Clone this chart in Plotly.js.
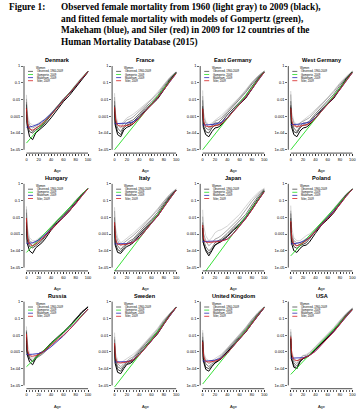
<!DOCTYPE html>
<html><head><meta charset="utf-8">
<script src="https://cdn.plot.ly/plotly-3.0.1.min.js"></script>
<style>html,body{margin:0;padding:0;background:#fff}#chart{width:359px;height:420px}</style>
</head><body><div id="chart"></div>
<script>
// ---------- data ----------
const countries = ['Denmark','France','East Germany','West Germany','Hungary','Italy','Japan','Poland','Russia','Sweden','United Kingdom','USA'];
const ages = [0,1,5,10,15,20,25,30,40,50,60,70,80,90,100];
const years = [1960,1972,1985,1997,2009];
const fitAges = [0,1,2,5,10,20,30,40,50,60,70,80,90,100];
const gompAges = [0,100];
const legendLabels = ['Observed, 1960-2009','Gompertz, 2009','Makeham, 2009','Siler, 2009'];
const xTicks = [0,20,40,60,80,100];
const yTickVals = [1e-5,1e-4,1e-3,1e-2,1e-1,1];
const yTickText = ['1e-05','1e-04','0.001','0.01','0.1','1'];

const obsDenmark = [
 [0.019,0.0015,0.0004,0.0003,0.0003,0.0004,0.0005,0.0007,0.0016,0.004,0.0095,0.026,0.08,0.22,0.5],
 [0.011,0.0008,0.0003,0.0002,0.00025,0.0003,0.0004,0.0006,0.0015,0.0042,0.0095,0.024,0.072,0.2,0.48],
 [0.007,0.0005,0.0002,0.00012,0.0002,0.00025,0.0003,0.0005,0.0014,0.0045,0.011,0.024,0.065,0.19,0.45],
 [0.005,0.0004,0.00012,0.0001,0.00015,0.0002,0.00025,0.0004,0.0012,0.0036,0.01,0.023,0.06,0.19,0.45],
 [0.003,0.0003,0.00006,0.00004,0.0001,0.00015,0.0002,0.0003,0.0008,0.0025,0.0075,0.018,0.055,0.17,0.45]];
const obsFrance = [
 [0.024,0.0018,0.0004,0.0003,0.0005,0.0008,0.001,0.0013,0.0026,0.0055,0.011,0.028,0.085,0.22,0.45],
 [0.014,0.001,0.0003,0.0002,0.0004,0.0006,0.0007,0.0009,0.002,0.0045,0.009,0.022,0.072,0.2,0.45],
 [0.008,0.0006,0.0002,0.00012,0.00025,0.0004,0.0005,0.0006,0.0014,0.0035,0.007,0.017,0.058,0.18,0.43],
 [0.0045,0.0004,0.00012,0.00008,0.0002,0.0003,0.00035,0.00045,0.0011,0.0027,0.0055,0.013,0.045,0.16,0.42],
 [0.0033,0.0003,0.00008,0.00006,0.00015,0.00022,0.00026,0.00035,0.00085,0.0022,0.0048,0.011,0.037,0.14,0.4]];
const obsEastGermany = [
 [0.035,0.002,0.0005,0.0003,0.0004,0.0006,0.0008,0.0011,0.0025,0.0062,0.014,0.038,0.11,0.26,0.5],
 [0.016,0.001,0.0004,0.0002,0.0003,0.0005,0.0006,0.0008,0.002,0.0052,0.012,0.033,0.1,0.25,0.5],
 [0.009,0.0006,0.0002,0.00015,0.00025,0.0004,0.0004,0.0006,0.0016,0.0042,0.01,0.027,0.085,0.22,0.48],
 [0.004,0.0003,0.00012,0.0001,0.0002,0.0003,0.0003,0.0004,0.0012,0.003,0.0068,0.017,0.06,0.19,0.46],
 [0.0028,0.00022,0.00008,0.00006,0.00012,0.0002,0.00022,0.0003,0.0008,0.0023,0.0052,0.012,0.042,0.16,0.43]];
const obsWestGermany = [
 [0.032,0.002,0.0005,0.0003,0.0004,0.0006,0.0008,0.0011,0.0025,0.006,0.013,0.035,0.1,0.24,0.5],
 [0.02,0.0012,0.0004,0.0002,0.0004,0.0005,0.0006,0.0008,0.002,0.005,0.011,0.03,0.09,0.22,0.48],
 [0.008,0.0006,0.0002,0.00012,0.00025,0.0004,0.0004,0.0005,0.0014,0.0035,0.008,0.021,0.07,0.2,0.46],
 [0.0045,0.0004,0.00012,0.0001,0.0002,0.0003,0.0003,0.0004,0.0011,0.0028,0.0062,0.015,0.055,0.18,0.45],
 [0.0033,0.00025,0.00008,0.00006,0.00013,0.0002,0.00022,0.0003,0.0008,0.0023,0.0052,0.012,0.043,0.16,0.43]];
const obsHungary = [
 [0.045,0.003,0.0006,0.0004,0.0004,0.0006,0.0008,0.001,0.0022,0.0055,0.013,0.036,0.11,0.25,0.5],
 [0.03,0.0015,0.0004,0.0003,0.0003,0.0005,0.0006,0.0009,0.0022,0.0058,0.013,0.035,0.1,0.25,0.5],
 [0.019,0.0008,0.0003,0.0002,0.00025,0.0004,0.0005,0.0008,0.0024,0.0065,0.014,0.035,0.1,0.25,0.5],
 [0.009,0.0005,0.00018,0.00015,0.0002,0.0003,0.0004,0.0007,0.0022,0.0062,0.013,0.03,0.09,0.23,0.5],
 [0.005,0.0003,0.0001,0.00007,0.00015,0.0002,0.0003,0.0005,0.0017,0.0048,0.01,0.024,0.075,0.22,0.5]];
const obsItaly = [
 [0.04,0.003,0.0006,0.0003,0.0004,0.0006,0.0008,0.0011,0.0023,0.0055,0.012,0.034,0.1,0.25,0.5],
 [0.024,0.0013,0.0004,0.0002,0.0003,0.0004,0.0006,0.0008,0.0018,0.0045,0.01,0.028,0.09,0.23,0.48],
 [0.01,0.0006,0.0002,0.00012,0.0002,0.0003,0.0004,0.0005,0.0013,0.0033,0.0075,0.02,0.07,0.2,0.45],
 [0.005,0.0003,0.00012,0.00009,0.00015,0.00025,0.0003,0.0004,0.001,0.0025,0.0058,0.015,0.055,0.18,0.43],
 [0.0032,0.00022,0.00008,0.00007,0.00012,0.00018,0.00022,0.0003,0.0008,0.002,0.0047,0.012,0.043,0.15,0.42]];
const obsJapan = [
 [0.028,0.004,0.0008,0.0004,0.0006,0.0012,0.0016,0.0018,0.003,0.0065,0.015,0.045,0.13,0.3,0.55],
 [0.011,0.0012,0.0004,0.0002,0.0003,0.0005,0.0006,0.0008,0.0017,0.004,0.009,0.028,0.09,0.24,0.5],
 [0.005,0.0005,0.00018,0.0001,0.00015,0.0003,0.0004,0.0005,0.0011,0.0026,0.0055,0.015,0.055,0.18,0.45],
 [0.0035,0.0003,0.00012,0.00007,0.00012,0.00022,0.0003,0.0004,0.0008,0.002,0.0043,0.011,0.04,0.14,0.4],
 [0.0023,0.0003,0.0001,0.00005,0.0001,0.00022,0.00028,0.00035,0.0007,0.0017,0.0035,0.0085,0.03,0.11,0.36]];
const obsPoland = [
 [0.05,0.003,0.0006,0.0004,0.0004,0.0006,0.0008,0.001,0.002,0.005,0.012,0.035,0.1,0.25,0.5],
 [0.025,0.0013,0.0004,0.0003,0.0003,0.0004,0.0005,0.0007,0.0017,0.0045,0.011,0.03,0.09,0.23,0.5],
 [0.017,0.0008,0.0003,0.0002,0.00025,0.0003,0.0004,0.0006,0.0017,0.0048,0.011,0.03,0.09,0.23,0.5],
 [0.009,0.0005,0.00018,0.00014,0.0002,0.00025,0.0003,0.0005,0.0015,0.0043,0.0095,0.025,0.08,0.22,0.48],
 [0.0052,0.0003,0.0001,0.00008,0.00014,0.0002,0.00022,0.00032,0.0011,0.0035,0.0075,0.019,0.065,0.2,0.47]];
const obsRussia = [
 [0.033,0.004,0.0008,0.0004,0.0005,0.0008,0.001,0.0013,0.0025,0.0055,0.013,0.035,0.1,0.25,0.5],
 [0.02,0.0016,0.0005,0.0003,0.0004,0.0006,0.0008,0.0011,0.0027,0.006,0.013,0.036,0.1,0.25,0.5],
 [0.018,0.0012,0.0004,0.00025,0.0004,0.0005,0.0007,0.001,0.0028,0.0065,0.014,0.036,0.1,0.25,0.5],
 [0.015,0.001,0.0004,0.00025,0.0005,0.0008,0.001,0.0014,0.0035,0.008,0.016,0.036,0.1,0.24,0.48],
 [0.0075,0.0007,0.00025,0.00017,0.0004,0.0007,0.0009,0.0013,0.0031,0.0068,0.0135,0.03,0.085,0.22,0.47]];
const obsSweden = [
 [0.014,0.001,0.0003,0.0002,0.0003,0.0004,0.0005,0.0007,0.0015,0.0038,0.009,0.026,0.085,0.22,0.5],
 [0.008,0.0006,0.0002,0.00013,0.0002,0.0003,0.0004,0.0005,0.0013,0.0034,0.008,0.022,0.075,0.2,0.48],
 [0.0055,0.0004,0.00013,0.0001,0.00015,0.00025,0.0003,0.0004,0.0011,0.003,0.0068,0.018,0.062,0.19,0.46],
 [0.0033,0.0003,0.00009,0.00007,0.00013,0.0002,0.00025,0.0003,0.0009,0.0024,0.0058,0.015,0.053,0.17,0.45],
 [0.0024,0.0002,0.00006,0.00005,0.0001,0.00018,0.0002,0.00027,0.0007,0.0019,0.0048,0.012,0.045,0.16,0.44]];
const obsUK = [
 [0.02,0.0012,0.0004,0.0003,0.0003,0.0004,0.0005,0.0007,0.0017,0.0045,0.011,0.03,0.09,0.23,0.5],
 [0.014,0.0008,0.0003,0.0002,0.00025,0.0003,0.0004,0.0006,0.0016,0.0042,0.01,0.027,0.085,0.22,0.48],
 [0.008,0.0005,0.0002,0.00013,0.0002,0.00025,0.0003,0.0005,0.0013,0.0037,0.0093,0.023,0.07,0.2,0.46],
 [0.0052,0.0004,0.00012,0.0001,0.00015,0.00022,0.0003,0.0004,0.0011,0.003,0.0075,0.019,0.06,0.18,0.45],
 [0.0042,0.0003,0.00009,0.00007,0.00013,0.00022,0.00028,0.00038,0.001,0.0025,0.0062,0.015,0.05,0.16,0.44]];
const obsUSA = [
 [0.023,0.0013,0.0004,0.0003,0.0004,0.0006,0.0007,0.0009,0.0021,0.005,0.011,0.029,0.08,0.2,0.42],
 [0.016,0.0009,0.0003,0.0002,0.0004,0.0006,0.0006,0.0008,0.0019,0.0045,0.01,0.025,0.07,0.19,0.4],
 [0.0095,0.0006,0.00022,0.00014,0.0003,0.0004,0.0005,0.0006,0.0014,0.0035,0.0085,0.02,0.06,0.17,0.38],
 [0.0065,0.0004,0.00016,0.0001,0.0003,0.0004,0.00045,0.0006,0.0015,0.0033,0.0078,0.019,0.055,0.16,0.36],
 [0.006,0.0004,0.00012,0.0001,0.00025,0.0004,0.0005,0.0006,0.0014,0.0033,0.0072,0.017,0.048,0.14,0.33]];

const gompDenmark=[2.5e-5,0.5], gompFrance=[1e-5,0.38], gompEastGermany=[1e-5,0.45], gompWestGermany=[1e-5,0.42],
      gompHungary=[8e-5,0.55], gompItaly=[6e-6,0.42], gompJapan=[3.5e-6,0.36], gompPoland=[5e-5,0.5],
      gompRussia=[1.3e-4,0.35], gompSweden=[8e-6,0.45], gompUK=[1.2e-5,0.45], gompUSA=[4.5e-5,0.33];

const makeDenmark=[2.2e-4,2.2e-4,2.2e-4,2.3e-4,2.5e-4,3.5e-4,6.5e-4,1.4e-3,3.5e-3,9e-3,0.024,0.065,0.18,0.48];
const makeFrance=[3.6e-4,3.6e-4,3.6e-4,3.6e-4,3.6e-4,3.9e-4,4.6e-4,8e-4,2e-3,5e-3,0.013,0.038,0.12,0.36];
const makeEastGermany=[3e-4,3e-4,3e-4,3e-4,3.1e-4,3.4e-4,4.3e-4,8e-4,2e-3,5.2e-3,0.014,0.042,0.14,0.43];
const makeWestGermany=[3.2e-4,3.2e-4,3.2e-4,3.2e-4,3.3e-4,3.6e-4,4.5e-4,8e-4,2e-3,5.2e-3,0.014,0.04,0.13,0.4];
const makeHungary=[2.8e-4,2.8e-4,2.8e-4,2.9e-4,3e-4,4.5e-4,8.5e-4,1.8e-3,4.2e-3,0.01,0.025,0.065,0.19,0.52];
const makeItaly=[2.6e-4,2.6e-4,2.6e-4,2.6e-4,2.6e-4,2.7e-4,3.2e-4,6e-4,1.6e-3,4.5e-3,0.012,0.04,0.13,0.42];
const makeJapan=[3.6e-4,3.6e-4,3.6e-4,3.6e-4,3.6e-4,3.6e-4,3.9e-4,5e-4,1.1e-3,3e-3,8.5e-3,0.028,0.1,0.34];
const makePoland=[2.6e-4,2.6e-4,2.6e-4,2.7e-4,2.8e-4,3.6e-4,6e-4,1.4e-3,3.5e-3,8.5e-3,0.021,0.06,0.18,0.48];
const makeRussia=[7e-4,7e-4,7e-4,7e-4,7.2e-4,8e-4,1.1e-3,2e-3,4e-3,9e-3,0.022,0.055,0.14,0.36];
const makeSweden=[2.5e-4,2.5e-4,2.5e-4,2.5e-4,2.5e-4,2.6e-4,3.3e-4,6.5e-4,1.7e-3,4.7e-3,0.013,0.045,0.15,0.45];
const makeUK=[2.8e-4,2.8e-4,2.8e-4,2.8e-4,2.9e-4,3.2e-4,4.2e-4,8.5e-4,2.2e-3,6e-3,0.016,0.048,0.15,0.44];
const makeUSA=[4.2e-4,4.2e-4,4.2e-4,4.2e-4,4.3e-4,4.5e-4,6e-4,1.1e-3,2.7e-3,6.5e-3,0.016,0.045,0.13,0.33];

const silerDenmark=[3e-3,7e-4,3.5e-4,1.8e-4,1.5e-4,2.5e-4,5e-4,1.2e-3,3.3e-3,9e-3,0.024,0.065,0.18,0.48];
const silerFrance=[3.5e-3,1.2e-3,6e-4,3e-4,2.6e-4,2.8e-4,3.6e-4,7.5e-4,2e-3,5e-3,0.013,0.038,0.12,0.36];
const silerEastGermany=[2.8e-3,9e-4,4.5e-4,2.6e-4,2.4e-4,2.7e-4,3.5e-4,7.5e-4,2e-3,5.2e-3,0.014,0.042,0.14,0.43];
const silerWestGermany=[3e-3,1e-3,5e-4,2.8e-4,2.5e-4,2.8e-4,3.6e-4,7.5e-4,2e-3,5.2e-3,0.014,0.04,0.13,0.4];
const silerHungary=[9e-3,1.5e-3,6e-4,2.5e-4,2e-4,3.5e-4,7.5e-4,1.7e-3,4.2e-3,0.01,0.025,0.065,0.19,0.52];
const silerItaly=[5e-3,1.2e-3,5e-4,2.5e-4,2.3e-4,2.5e-4,3.2e-4,6e-4,1.6e-3,4.5e-3,0.012,0.04,0.13,0.42];
const silerJapan=[3.5e-3,1e-3,5e-4,3.3e-4,3.2e-4,3.4e-4,3.8e-4,5e-4,1.1e-3,3e-3,8.5e-3,0.028,0.1,0.34];
const silerPoland=[6e-3,1.2e-3,5e-4,2.5e-4,2e-4,3e-4,6e-4,1.4e-3,3.5e-3,8.5e-3,0.021,0.06,0.18,0.48];
const silerRussia=[0.012,2.5e-3,1.2e-3,6e-4,5.5e-4,7e-4,1.2e-3,2.5e-3,5e-3,0.01,0.022,0.055,0.14,0.36];
const silerSweden=[3.3e-3,8e-4,4e-4,2.3e-4,2.2e-4,2.5e-4,3.3e-4,6.5e-4,1.7e-3,4.7e-3,0.013,0.045,0.15,0.45];
const silerUK=[4e-3,1e-3,5e-4,2.7e-4,2.5e-4,2.8e-4,4e-4,8.5e-4,2.2e-3,6e-3,0.016,0.048,0.15,0.44];
const silerUSA=[8e-3,1.5e-3,7e-4,3.5e-4,3e-4,4.2e-4,6e-4,1.1e-3,2.7e-3,6.5e-3,0.016,0.045,0.13,0.33];

const obsAll=[obsDenmark,obsFrance,obsEastGermany,obsWestGermany,obsHungary,obsItaly,obsJapan,obsPoland,obsRussia,obsSweden,obsUK,obsUSA];
const gompAll=[gompDenmark,gompFrance,gompEastGermany,gompWestGermany,gompHungary,gompItaly,gompJapan,gompPoland,gompRussia,gompSweden,gompUK,gompUSA];
const makeAll=[makeDenmark,makeFrance,makeEastGermany,makeWestGermany,makeHungary,makeItaly,makeJapan,makePoland,makeRussia,makeSweden,makeUK,makeUSA];
const silerAll=[silerDenmark,silerFrance,silerEastGermany,silerWestGermany,silerHungary,silerItaly,silerJapan,silerPoland,silerRussia,silerSweden,silerUK,silerUSA];

// ---------- styling ----------
const W=359,H=420;
const grays=['#d4d4d4','#a9a9a9','#7a7a7a','#454545','#000000'];
const cGomp='#22dd22', cMake='#2a2ab8', cSiler='#d42020';
const SANS='Liberation Sans, Arial, sans-serif', SERIF='Liberation Serif, Times New Roman, serif';
const colLeft0=24, colStep=88.1, panelW=66.5, rowTop0=62.7, rowStep=117.8, panelH=90.4;
const px=x=>x/W, py=y=>1-y/H;
const legFS=2.7, legGap=3.1;

const traces=[], shapes=[], annotations=[];
const layout={width:W,height:H,margin:{l:0,r:0,t:0,b:0},showlegend:false,
  paper_bgcolor:'#fff',plot_bgcolor:'rgba(0,0,0,0)',font:{family:SANS,color:'#000'},
  shapes:shapes,annotations:annotations};

countries.forEach((name,i)=>{
  const n=i+1, r=Math.floor(i/4), c=i%4;
  const xa=n===1?'x':'x'+n, ya=n===1?'y':'y'+n;
  const left=colLeft0+colStep*c, top=rowTop0+rowStep*r;
  const right=left+panelW, bottom=top+panelH;
  layout['xaxis'+(n===1?'':n)]={domain:[px(left),px(right)],anchor:ya,range:[-4,104],
    tickmode:'array',tickvals:xTicks,ticks:'outside',ticklen:2,tickwidth:0.6,tickcolor:'#000',
    minor:{dtick:5,tick0:0,ticks:'outside',ticklen:2,tickwidth:0.6,tickcolor:'#000',showgrid:false},
    showgrid:false,zeroline:false,showline:false,tickfont:{size:3.9,family:SANS,color:'#000'}};
  layout['yaxis'+(n===1?'':n)]={domain:[py(bottom),py(top)],anchor:xa,type:'log',range:[-5.2,0.2],
    tickmode:'array',tickvals:yTickVals,ticktext:yTickText,ticks:'outside',ticklen:2,tickwidth:0.6,tickcolor:'#000',
    showgrid:false,zeroline:false,showline:false,tickfont:{size:3.9,family:SANS,color:'#000'}};
  // observed
  obsAll[i].forEach((row,k)=>traces.push({type:'scatter',mode:'lines',x:ages,y:row,xaxis:xa,yaxis:ya,
    line:{color:grays[k],width:1.0},hoverinfo:'skip',name:String(years[k])}));
  traces.push({type:'scatter',mode:'lines',x:gompAges,y:gompAll[i],xaxis:xa,yaxis:ya,line:{color:cGomp,width:0.9},hoverinfo:'skip'});
  traces.push({type:'scatter',mode:'lines',x:fitAges,y:makeAll[i],xaxis:xa,yaxis:ya,line:{color:cMake,width:0.9},hoverinfo:'skip'});
  traces.push({type:'scatter',mode:'lines',x:fitAges,y:silerAll[i],xaxis:xa,yaxis:ya,line:{color:cSiler,width:0.9,shape:'spline',smoothing:0.6},hoverinfo:'skip'});
  // axis lines (R style, spanning first to last tick)
  shapes.push({type:'line',xref:xa+' domain',yref:ya+' domain',x0:0,x1:0,y0:0.2/5.4,y1:5.2/5.4,line:{color:'#000',width:0.7}});
  shapes.push({type:'line',xref:xa+' domain',yref:ya+' domain',x0:4/108,x1:104/108,y0:0,y1:0,line:{color:'#000',width:0.7}});
  // panel title and x label
  const cx=left+panelW*54/108;
  annotations.push({xref:'paper',yref:'paper',x:px(cx),y:py(top-2.8),text:'<b>'+name+'</b>',showarrow:false,
    xanchor:'center',yanchor:'middle',font:{size:5.6,family:SANS,color:'#000'}});
  annotations.push({xref:'paper',yref:'paper',x:px(cx),y:py(bottom+17.5),text:'Age',showarrow:false,
    xanchor:'center',yanchor:'middle',font:{size:3.9,family:SANS,color:'#000'}});
  // legend
  const lx0=left+4, lx1=left+9, tx=left+10.5;
  annotations.push({xref:'paper',yref:'paper',x:px(tx-0.8),y:py(top+5.6),text:'Women',showarrow:false,
    xanchor:'left',yanchor:'middle',font:{size:legFS,family:SANS,color:'#000'}});
  const legCols=['#4a4a4a',cGomp,cMake,cSiler];
  legendLabels.forEach((lab,k)=>{
    const yy=top+5.6+legGap*(k+1);
    shapes.push({type:'line',xref:'paper',yref:'paper',x0:px(lx0),x1:px(lx1),y0:py(yy),y1:py(yy),line:{color:legCols[k],width:0.8}});
    annotations.push({xref:'paper',yref:'paper',x:px(tx),y:py(yy),text:lab,showarrow:false,
      xanchor:'left',yanchor:'middle',font:{size:legFS,family:SANS,color:'#000'}});
  });
});

// caption
const capFont={size:9.3,family:SERIF,color:'#000'};
const capLines=['Observed female mortality from 1960 (light gray) to 2009 (black),',
 'and fitted female mortality with models of Gompertz (green),',
 'Makeham (blue), and Siler (red) in 2009 for 12 countries of the',
 'Human Mortality Database (2015)'];
const capY=[7.3,19.3,31,42.7];
annotations.push({xref:'paper',yref:'paper',x:px(7),y:py(capY[0]),text:'<b>Figure 1:</b>',showarrow:false,xanchor:'left',yanchor:'middle',font:capFont});
capLines.forEach((t,k)=>annotations.push({xref:'paper',yref:'paper',x:px(59),y:py(capY[k]),text:'<b>'+t+'</b>',showarrow:false,xanchor:'left',yanchor:'middle',font:capFont}));

Plotly.newPlot('chart',traces,layout,{staticPlot:true,displayModeBar:false});
</script></body></html>
